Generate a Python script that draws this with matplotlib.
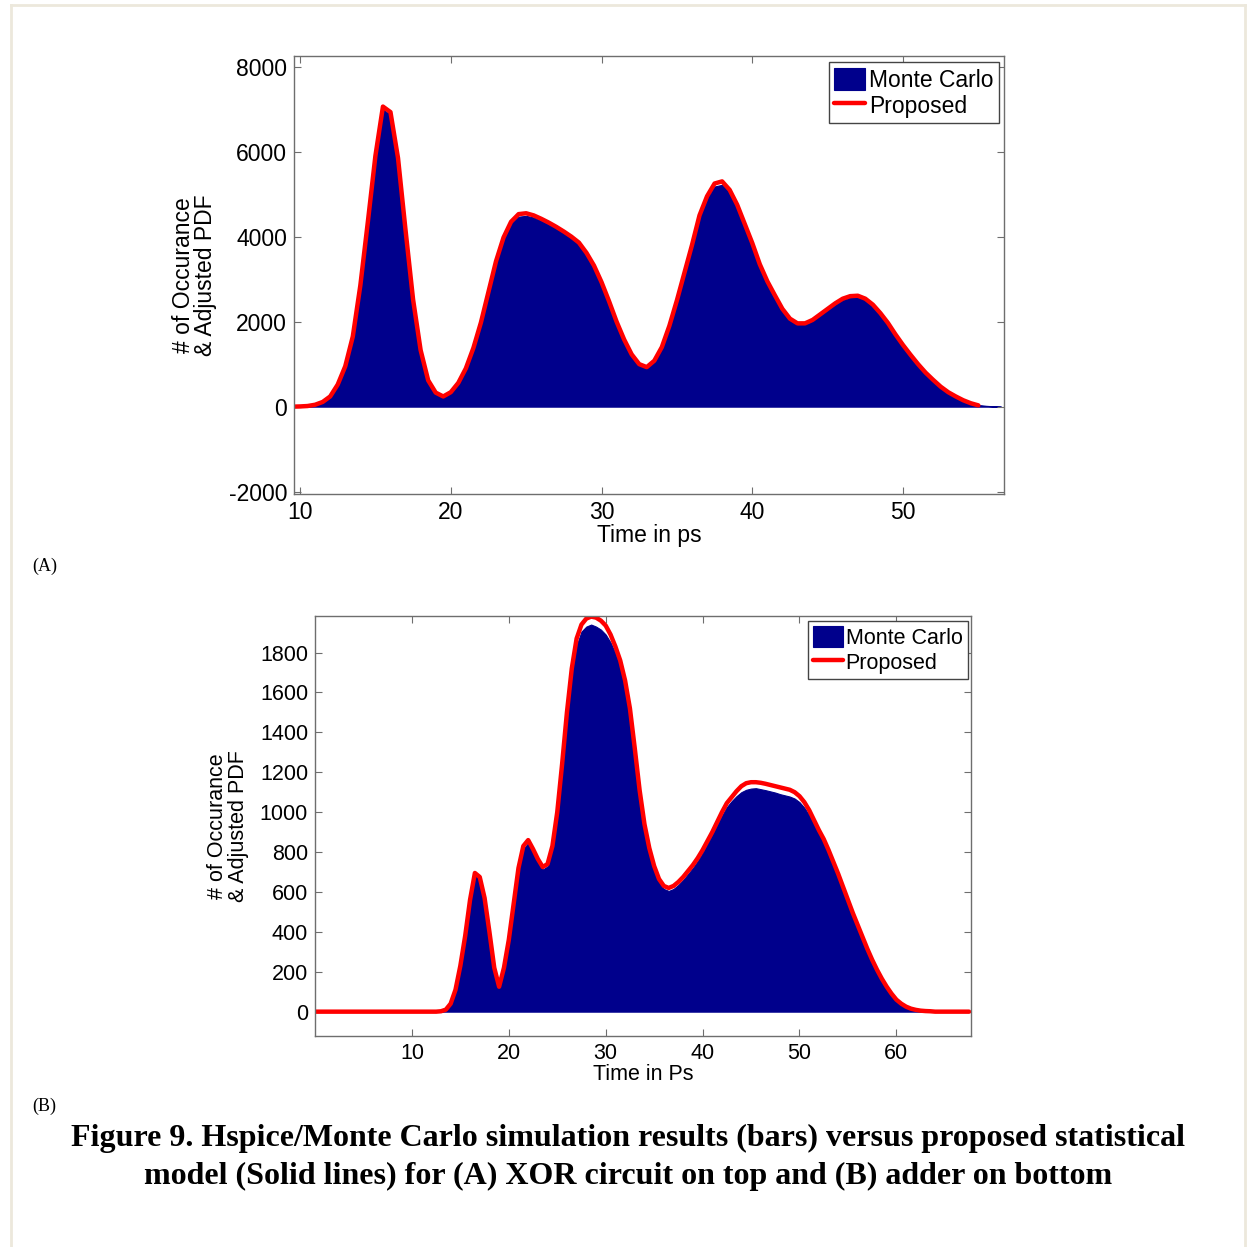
import numpy as np
import matplotlib
matplotlib.use("Agg")
import matplotlib.pyplot as plt
from matplotlib.lines import Line2D

# ---------------- data ----------------
# (A) XOR circuit, time grid from 9.5 ps, step 0.5 ps
xor_mc_start, xor_step = 9.5, 0.5
xor_mc = [0, 0, 10, 40, 105, 235, 510, 940, 1640, 2830, 4320, 5860, 6990, 6870,
          5800, 4110, 2500, 1320, 610, 325, 235, 335, 555, 890, 1370, 1960, 2680,
          3390, 3940, 4300, 4470, 4490, 4450, 4370, 4280, 4190, 4080, 3960, 3820,
          3580, 3290, 2900, 2450, 1980, 1560, 1215, 985, 915, 1065, 1385, 1880,
          2480, 3120, 3760, 4450, 4890, 5180, 5220, 5030, 4700, 4250, 3800, 3310,
          2920, 2590, 2270, 2040, 1930, 1935, 2015, 2140, 2270, 2400, 2510, 2565,
          2575, 2510, 2370, 2175, 1945, 1680, 1430, 1205, 990, 790, 620, 465, 335,
          235, 148, 80, 40, 20, 8, 0]
xor_model = [0, 5, 15, 45, 110, 240, 520, 950, 1650, 2850, 4350, 5900, 7060, 6930,
             5850, 4150, 2520, 1330, 620, 330, 240, 340, 560, 900, 1380, 1980, 2700,
             3420, 3980, 4350, 4530, 4550, 4500, 4420, 4330, 4230, 4120, 4000, 3860,
             3620, 3320, 2930, 2480, 2000, 1580, 1230, 1000, 930, 1080, 1400, 1900,
             2500, 3150, 3800, 4500, 4950, 5250, 5300, 5100, 4750, 4300, 3850, 3350,
             2950, 2620, 2300, 2070, 1960, 1960, 2040, 2170, 2300, 2430, 2540, 2600,
             2610, 2540, 2400, 2200, 1970, 1700, 1450, 1220, 1000, 800, 630, 470, 340,
             240, 150, 80, 30]

# (B) adder, time grid from 0 ps, step 0.5 ps
add_start, add_step = 0.0, 0.5
add_mc = [0, 0, 0, 0, 0, 0, 0, 0, 0, 0, 0, 0, 0, 0, 0, 0, 0, 0, 0, 0, 0, 0, 0, 0,
          0, 0, 0, 8, 38, 106, 225, 372, 550, 682, 665, 560, 392, 215, 118, 213,
          352, 530, 708, 815, 845, 800, 750, 712, 728, 818, 985, 1220, 1475, 1690,
          1835, 1905, 1930, 1940, 1930, 1915, 1890, 1850, 1795, 1730, 1635, 1500,
          1300, 1095, 928, 808, 718, 652, 615, 605, 615, 635, 660, 690, 720, 755,
          795, 840, 885, 935, 982, 1025, 1055, 1080, 1100, 1112, 1118, 1120, 1115,
          1110, 1104, 1098, 1090, 1084, 1078, 1068, 1050, 1022, 985, 940, 892, 850,
          797, 740, 680, 617, 553, 490, 430, 370, 310, 256, 206, 162, 122, 88, 58,
          39, 24, 14, 8, 4, 2, 1, 0, 0, 0, 0, 0, 0, 0, 0]
add_model = [0, 0, 0, 0, 0, 0, 0, 0, 0, 0, 0, 0, 0, 0, 0, 0, 0, 0, 0, 0, 0, 0, 0, 0,
             0, 0, 2, 10, 40, 110, 230, 380, 560, 695, 675, 570, 400, 220, 125, 220,
             360, 540, 720, 830, 860, 815, 765, 725, 740, 830, 1000, 1240, 1500, 1720,
             1870, 1940, 1970, 1980, 1975, 1960, 1935, 1890, 1830, 1760, 1660, 1520,
             1320, 1110, 940, 820, 730, 665, 630, 620, 630, 650, 675, 705, 735, 770,
             810, 855, 900, 950, 1000, 1045, 1075, 1105, 1130, 1145, 1150, 1150, 1147,
             1142, 1136, 1130, 1124, 1118, 1112, 1100, 1080, 1050, 1010, 960, 910, 865,
             810, 750, 690, 625, 560, 495, 435, 375, 315, 260, 210, 165, 125, 90, 60,
             40, 25, 15, 9, 5, 3, 2, 0, 0, 0, 0, 0, 0, 0, 0]

xor_xticks = [10, 20, 30, 40, 50]
xor_yticks = [-2000, 0, 2000, 4000, 6000, 8000]
add_xticks = [10, 20, 30, 40, 50, 60]
add_yticks = [0, 200, 400, 600, 800, 1000, 1200, 1400, 1600, 1800]

# ---------------- style ----------------
W, H = 1248, 1247
BLUE = "#00008C"
RED = "#FF0000"
plt.rcParams["font.family"] = ["Liberation Sans", "DejaVu Sans"]
plt.rcParams["axes.unicode_minus"] = False

fig = plt.figure(figsize=(W / 100, H / 100), dpi=100)
fig.patch.set_facecolor("white")


def fx(px):
    return px / W


def fy(py):
    return 1 - py / H


# page frame
for (x0, y0, x1, y1) in [(11, 5, 11, H), (11, 5, 1245, 5), (1245, 5, 1245, H)]:
    fig.add_artist(Line2D([fx(x0), fx(x1)], [fy(y0), fy(y1)], color="#ECE8DC",
                          lw=2.0, transform=fig.transFigure))


def style_axes(ax, fs):
    for s in ax.spines.values():
        s.set_color("#6E6E6E")
        s.set_linewidth(1.0)
    ax.tick_params(direction="in", length=5, width=0.8, color="#6E6E6E",
                   top=True, right=True, labelsize=fs, pad=5, labelcolor="black")


def panel(rect, t0, step, mc, model, xlim, ylim, xticks, yticks, xlabel, fs,
          leg_anchor, leg_fs):
    ax = fig.add_axes(rect)
    t_mc = t0 + step * np.arange(len(mc))
    t_md = t0 + step * np.arange(len(model))
    ax.fill_between(t_mc, 0, mc, facecolor=BLUE, edgecolor=BLUE, lw=0.8,
                    label="Monte Carlo")
    ax.plot(t_md, model, color=RED, lw=3.2, solid_capstyle="round",
            solid_joinstyle="round", label="Proposed")
    ax.set_xlim(*xlim)
    ax.set_ylim(*ylim)
    ax.set_xticks(xticks)
    ax.set_yticks(yticks)
    style_axes(ax, fs)
    ax.set_xlabel(xlabel, fontsize=fs, labelpad=0)
    ax.set_ylabel("# of Occurance\n& Adjusted PDF", fontsize=fs, linespacing=0.95,
                  labelpad=8)
    leg = ax.legend(loc="upper right", bbox_to_anchor=leg_anchor,
                    bbox_transform=fig.transFigure, borderaxespad=0,
                    fancybox=False, fontsize=leg_fs, handlelength=1.35,
                    handleheight=1.1, handletextpad=0.15, borderpad=0.25,
                    labelspacing=0.1, framealpha=1)
    leg.get_frame().set_edgecolor("#444444")
    leg.get_frame().set_linewidth(1.0)
    return ax


# (A)
panel([fx(294), fy(494), fx(1004) - fx(294), fy(56) - fy(494)],
      xor_mc_start, xor_step, xor_mc, xor_model,
      (9.6, 56.7), (-2055, 8250), xor_xticks, xor_yticks, "Time in ps", 16.5,
      (fx(999), fy(62)), 16.5)

# (B)
panel([fx(315), fy(1036), fx(971) - fx(315), fy(616) - fy(1036)],
      add_start, add_step, add_mc, add_model,
      (0, 67.7), (-122, 1983), add_xticks, add_yticks, "Time in Ps", 15.5,
      (fx(968), fy(621)), 15.5)

serif = ["Liberation Serif", "DejaVu Serif"]
fig.text(fx(32), fy(566), "(A)", fontsize=13, family=serif, va="center", ha="left")
fig.text(fx(32), fy(1106), "(B)", fontsize=13, family=serif, va="center", ha="left")
fig.text(fx(628), fy(1138),
         "Figure 9. Hspice/Monte Carlo simulation results (bars) versus proposed statistical",
         fontsize=23, family=serif, weight="bold", ha="center", va="center")
fig.text(fx(628), fy(1176),
         "model (Solid lines) for (A) XOR circuit on top and (B) adder on bottom",
         fontsize=23, family=serif, weight="bold", ha="center", va="center")

fig.savefig("out.png", dpi=100, facecolor="white")
